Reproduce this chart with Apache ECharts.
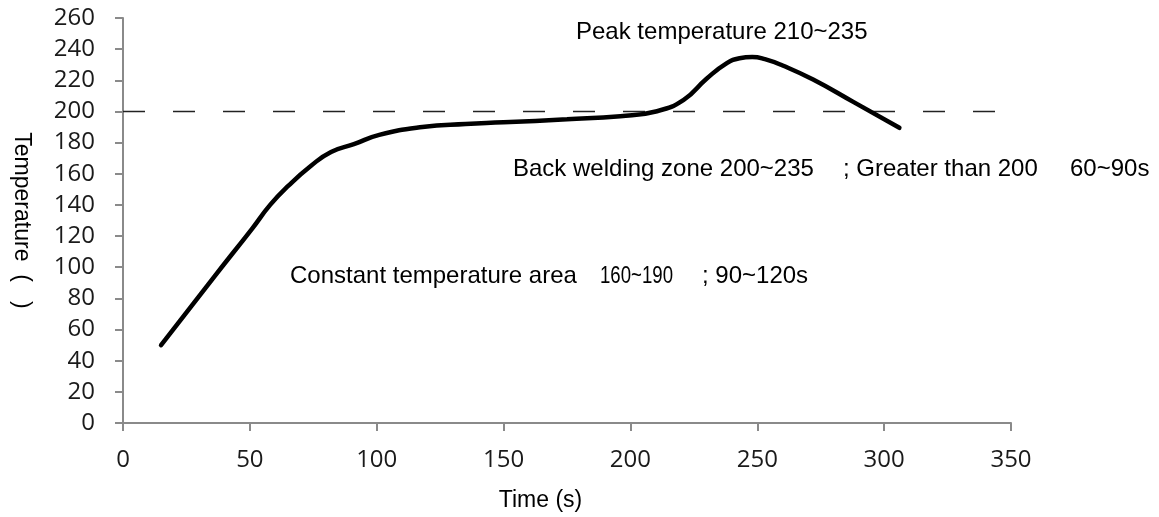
<!DOCTYPE html>
<html>
<head>
<meta charset="utf-8">
<script src="https://cdn.jsdelivr.net/npm/echarts@6/dist/echarts.min.js"></script>
<style>
  html, body { margin: 0; padding: 0; background: #fff; }
  #chart { width: 1159px; height: 517px; }
</style>
</head>
<body>
<div id="chart"></div>
<script>
// reflow profile
const timeS = [15, 36, 51, 58, 65, 74, 82, 91, 101, 118, 135, 150, 175, 196, 210, 221, 230, 238, 243, 248, 253, 260, 272, 288, 306]
const tempC = [50, 94, 125, 140, 152, 165, 174, 179, 185, 190, 192, 193, 195, 197, 200, 207.5, 221, 231, 234.2, 235, 233.6, 229.5, 220.5, 206, 189.5]
// 200 degree reference line
const refTime = [0, 350]
const refTemp = [200, 200]

const chart = echarts.init(document.getElementById('chart'))

const textFont = '24px "Liberation Sans", Arial, sans-serif'
const tickFont = { fontFamily: '"Open Sans", sans-serif', fontSize: 24, color: '#1a1a1a' }
const axisGray = '#8a8a8a'

chart.setOption({
  backgroundColor: '#fff',
  animation: false,
  grid: {
    left: 123,
    right: 148,
    top: 18,
    bottom: 94
  },
  xAxis: {
    type: 'value',
    min: 0,
    max: 350,
    interval: 50,
    name: 'Time (s)',
    nameLocation: 'middle',
    nameGap: 66,
    nameTextStyle: {
      fontFamily: '"Liberation Sans", Arial, sans-serif',
      fontSize: 23,
      color: '#000',
      padding: [0, 53, 0, 0]
    },
    axisLine: { lineStyle: { color: axisGray, width: 2 } },
    axisTick: { length: 8, lineStyle: { color: axisGray, width: 2 } },
    axisLabel: Object.assign({ margin: 25 }, tickFont),
    splitLine: { show: false }
  },
  yAxis: {
    type: 'value',
    min: 0,
    max: 260,
    interval: 20,
    name: 'Temperature  (   )',
    nameLocation: 'middle',
    nameRotate: -90,
    nameGap: 90,
    nameTextStyle: {
      fontFamily: '"Liberation Sans", Arial, sans-serif',
      fontSize: 23,
      color: '#000'
    },
    axisLine: { show: true, lineStyle: { color: axisGray, width: 2 } },
    axisTick: { show: true, length: 8, lineStyle: { color: axisGray, width: 2 } },
    axisLabel: Object.assign({ margin: 28 }, tickFont),
    splitLine: { show: false }
  },
  series: [
    {
      type: 'line',
      data: refTime.map((t, i) => [t, refTemp[i]]),
      showSymbol: false,
      silent: true,
      lineStyle: { color: '#222', width: 1.5, type: [22, 28] },
      z: 1
    },
    {
      type: 'line',
      data: timeS.map((t, i) => [t, tempC[i]]),
      smooth: 0.5,
      showSymbol: false,
      lineStyle: { color: '#000', width: 4.5, cap: 'round' },
      z: 2
    }
  ],
  graphic: [
    { type: 'text', x: 576, y: 32, style: { text: 'Peak temperature 210~235', font: textFont, fill: '#000', verticalAlign: 'middle' } },
    { type: 'text', x: 513, y: 169, style: { text: 'Back welding zone 200~235', font: textFont, fill: '#000', verticalAlign: 'middle' } },
    { type: 'text', x: 843, y: 169, style: { text: '; Greater than 200', font: textFont, fill: '#000', verticalAlign: 'middle' } },
    { type: 'text', x: 1070, y: 169, style: { text: '60~90s', font: textFont, fill: '#000', verticalAlign: 'middle' } },
    { type: 'text', x: 290, y: 276, style: { text: 'Constant temperature area', font: textFont, fill: '#000', verticalAlign: 'middle' } },
    { type: 'text', x: 600, y: 277, scaleX: 0.81, style: { text: '160~190', font: '23px "Liberation Sans", Arial, sans-serif', fill: '#000', verticalAlign: 'middle' } },
    { type: 'text', x: 702, y: 276, style: { text: '; 90~120s', font: textFont, fill: '#000', verticalAlign: 'middle' } }
  ]
})
</script>
</body>
</html>
